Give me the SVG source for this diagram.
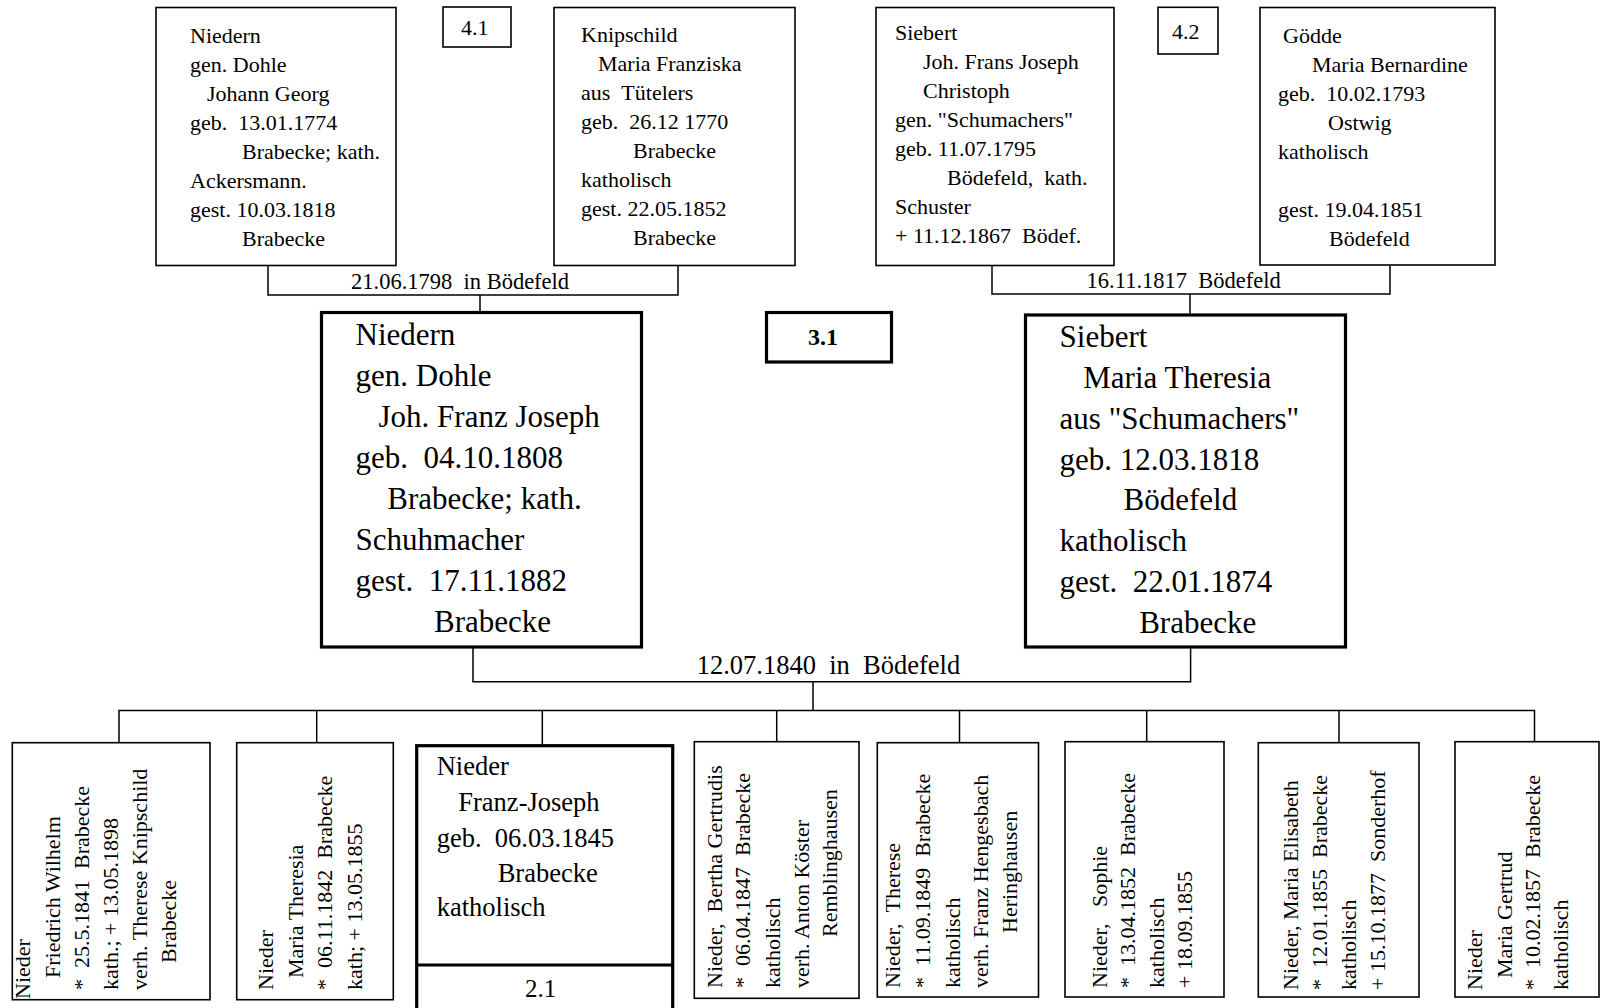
<svg xmlns="http://www.w3.org/2000/svg" width="1601" height="1008" viewBox="0 0 1601 1008">
<style>
text { font-family: "Liberation Serif", "Times New Roman", serif; fill: #000; white-space: pre; }
.t { font-size: 22px; }
.lab { font-size: 22.5px; }
.big { font-size: 31px; }
.mid { font-size: 26.5px; }
.num { font-size: 22px; }
.bold { font-size: 24px; font-weight: bold; }
.box { fill: #fff; stroke: #000; stroke-width: 1.6; }
.tbox { fill: #fff; stroke: #000; stroke-width: 3.2; }
.conn { fill: none; stroke: #000; stroke-width: 1.5; }
</style>
<rect width="1601" height="1008" fill="#fff"/>

<g id="connectors">
<path class="conn" d="M268,265.5 V295 H678 V265.5"/>
<path class="conn" d="M480,295 V311"/>
<path class="conn" d="M992,265.5 V294 H1390 V265.5"/>
<path class="conn" d="M1190,294 V313.5"/>
<path class="conn" d="M473,647 V681.7 H1190.6 V647"/>
<path class="conn" d="M813,681.7 V710.5"/>
<path class="conn" d="M119,742.7 V710.5 H1534.5 V741.7"/>
<path class="conn" d="M316.7,710.5 V742.7"/>
<path class="conn" d="M542.3,710.5 V744"/>
<path class="conn" d="M776.7,710.5 V741.7"/>
<path class="conn" d="M959.5,710.5 V742.7"/>
<path class="conn" d="M1146.7,710.5 V741.7"/>
<path class="conn" d="M1339,710.5 V742.7"/>
<text class="lab" x="351" y="289">21.06.1798 &#160;in Bödefeld</text>
<text class="lab" x="1086.6" y="288.3">16.11.1817 &#160;Bödefeld</text>
<text class="mid" x="696.7" y="674.3">12.07.1840 &#160;in &#160;Bödefeld</text>
</g>

<g id="n-niedern-johann-georg">
<rect class="box" x="156" y="7.5" width="240" height="258"/>
<text class="t" x="190" y="43.3">Niedern</text>
<text class="t" x="190" y="72.2">gen. Dohle</text>
<text class="t" x="207" y="101">Johann Georg</text>
<text class="t" x="190" y="130">geb. &#160;13.01.1774</text>
<text class="t" x="242" y="159">Brabecke; kath.</text>
<text class="t" x="190" y="188">Ackersmann.</text>
<text class="t" x="190" y="217">gest. 10.03.1818</text>
<text class="t" x="242" y="246">Brabecke</text>
</g>

<g id="label-4-1">
<rect class="box" x="443" y="7" width="68" height="40"/>
<text class="num" x="461" y="35">4.1</text>
</g>

<g id="n-knipschild">
<rect class="box" x="554" y="7.5" width="241" height="258"/>
<text class="t" x="581" y="42">Knipschild</text>
<text class="t" x="598" y="71">Maria Franziska</text>
<text class="t" x="581" y="100">aus &#160;Tütelers</text>
<text class="t" x="581" y="129">geb. &#160;26.12 1770</text>
<text class="t" x="633" y="158">Brabecke</text>
<text class="t" x="581" y="187">katholisch</text>
<text class="t" x="581" y="216">gest. 22.05.1852</text>
<text class="t" x="633" y="245">Brabecke</text>
</g>

<g id="n-siebert-joh">
<rect class="box" x="876" y="7.5" width="238" height="258"/>
<text class="t" x="895" y="40">Siebert</text>
<text class="t" x="923" y="69">Joh. Frans Joseph</text>
<text class="t" x="923" y="98">Christoph</text>
<text class="t" x="895" y="127">gen. "Schumachers"</text>
<text class="t" x="895" y="156">geb. 11.07.1795</text>
<text class="t" x="947" y="185">Bödefeld, &#160;kath.</text>
<text class="t" x="895" y="214">Schuster</text>
<text class="t" x="895" y="243">+ 11.12.1867 &#160;Bödef.</text>
</g>

<g id="label-4-2">
<rect class="box" x="1158" y="7.3" width="60" height="46.7"/>
<text class="num" x="1172" y="39.3">4.2</text>
</g>

<g id="n-goedde">
<rect class="box" x="1260" y="7.5" width="235" height="257.5"/>
<text class="t" x="1283" y="43">Gödde</text>
<text class="t" x="1312" y="72">Maria Bernardine</text>
<text class="t" x="1278" y="101">geb. &#160;10.02.1793</text>
<text class="t" x="1328" y="130">Ostwig</text>
<text class="t" x="1278" y="158.5">katholisch</text>
<text class="t" x="1278" y="217">gest. 19.04.1851</text>
<text class="t" x="1329" y="246">Bödefeld</text>
</g>

<g id="n-niedern-joh-franz-joseph">
<rect class="tbox" x="321.5" y="312.5" width="320" height="334.5"/>
<text class="big" x="355.5" y="345">Niedern</text>
<text class="big" x="355.5" y="386">gen. Dohle</text>
<text class="big" x="378.5" y="427">Joh. Franz Joseph</text>
<text class="big" x="355.5" y="468">geb. &#160;04.10.1808</text>
<text class="big" x="387.3" y="509">Brabecke; kath.</text>
<text class="big" x="355.5" y="550">Schuhmacher</text>
<text class="big" x="355.5" y="591">gest. &#160;17.11.1882</text>
<text class="big" x="434" y="632">Brabecke</text>
</g>

<g id="label-3-1">
<rect class="tbox" x="766.5" y="312.5" width="125" height="49.5"/>
<text class="bold" x="808" y="345">3.1</text>
</g>

<g id="n-siebert-maria-theresia">
<rect class="tbox" x="1025.5" y="315" width="320" height="332"/>
<text class="big" x="1059.6" y="347">Siebert</text>
<text class="big" x="1083.3" y="387.5">Maria Theresia</text>
<text class="big" x="1059.6" y="428.5">aus "Schumachers"</text>
<text class="big" x="1059.6" y="469.5">geb. 12.03.1818</text>
<text class="big" x="1123.5" y="510">Bödefeld</text>
<text class="big" x="1059.6" y="551">katholisch</text>
<text class="big" x="1059.6" y="592">gest. &#160;22.01.1874</text>
<text class="big" x="1139.2" y="632.5">Brabecke</text>
</g>

<g id="c-friedrich-wilhelm">
<rect class="box" x="12.3" y="742.7" width="197.7" height="257"/>
<text class="t" transform="translate(30,999) rotate(-90)">Nieder</text>
<text class="t" transform="translate(59.5,978) rotate(-90)">Friedrich Wilhelm</text>
<text class="t" transform="translate(88.5,990) rotate(-90)">* &#160;25.5.1841 &#160;Brabecke</text>
<text class="t" transform="translate(117.5,990) rotate(-90)">kath.; + 13.05.1898</text>
<text class="t" transform="translate(146.5,990) rotate(-90)">verh. Therese Knipschild</text>
<text class="t" transform="translate(175.5,963) rotate(-90)">Brabecke</text>
</g>

<g id="c-maria-theresia">
<rect class="box" x="236.7" y="742.7" width="156.6" height="257"/>
<text class="t" transform="translate(273,990) rotate(-90)">Nieder</text>
<text class="t" transform="translate(303,978) rotate(-90)">Maria Theresia</text>
<text class="t" transform="translate(332,990) rotate(-90)">* &#160;06.11.1842 &#160;Brabecke</text>
<text class="t" transform="translate(361.5,990) rotate(-90)">kath; + 13.05.1855</text>
</g>

<g id="c-franz-joseph">
<rect class="tbox" x="416.7" y="745.7" width="256" height="280"/>
<line x1="416.7" y1="965" x2="672.7" y2="965" stroke="#000" stroke-width="3.2"/>
<text class="mid" x="436.7" y="775">Nieder</text>
<text class="mid" x="458.3" y="811">Franz-Joseph</text>
<text class="mid" x="436.7" y="846.5">geb. &#160;06.03.1845</text>
<text class="mid" x="497.7" y="881.5">Brabecke</text>
<text class="mid" x="436.7" y="916">katholisch</text>
<text class="mid" x="525" y="996.7" style="font-size:25px">2.1</text>
</g>

<g id="c-bertha-gertrudis">
<rect class="box" x="694.3" y="741.7" width="164.7" height="256.6"/>
<text class="t" transform="translate(721.7,988) rotate(-90)">Nieder, &#160;Bertha Gertrudis</text>
<text class="t" transform="translate(750,988) rotate(-90)">* &#160;06.04.1847 &#160;Brabecke</text>
<text class="t" transform="translate(780,988) rotate(-90)">katholisch</text>
<text class="t" transform="translate(809,988) rotate(-90)">verh. Anton Köster</text>
<text class="t" transform="translate(837,937) rotate(-90)">Remblinghausen</text>
</g>

<g id="c-therese">
<rect class="box" x="877.3" y="742.7" width="161.2" height="254.3"/>
<text class="t" transform="translate(900,988) rotate(-90)">Nieder, &#160;Therese</text>
<text class="t" transform="translate(930,988) rotate(-90)">* &#160;11.09.1849 &#160;Brabecke</text>
<text class="t" transform="translate(959.5,988) rotate(-90)">katholisch</text>
<text class="t" transform="translate(987.5,988) rotate(-90)">verh. Franz Hengesbach</text>
<text class="t" transform="translate(1016.5,933) rotate(-90)">Heringhausen</text>
</g>

<g id="c-sophie">
<rect class="box" x="1065" y="741.7" width="159" height="255.3"/>
<text class="t" transform="translate(1106.7,988) rotate(-90)">Nieder, &#160;&#160;Sophie</text>
<text class="t" transform="translate(1135,988) rotate(-90)">* &#160;13.04.1852 &#160;Brabecke</text>
<text class="t" transform="translate(1163.5,988) rotate(-90)">katholisch</text>
<text class="t" transform="translate(1192,988) rotate(-90)">+ 18.09.1855</text>
</g>

<g id="c-maria-elisabeth">
<rect class="box" x="1258.3" y="742.7" width="160.7" height="254.3"/>
<text class="t" transform="translate(1298.3,990) rotate(-90)">Nieder, Maria Elisabeth</text>
<text class="t" transform="translate(1327,990) rotate(-90)">* &#160;12.01.1855 &#160;Brabecke</text>
<text class="t" transform="translate(1355.5,990) rotate(-90)">katholisch</text>
<text class="t" transform="translate(1385,990) rotate(-90)">+ 15.10.1877 &#160;Sonderhof</text>
</g>

<g id="c-maria-gertrud">
<rect class="box" x="1455" y="741.7" width="144" height="255.3"/>
<text class="t" transform="translate(1481.7,990) rotate(-90)">Nieder</text>
<text class="t" transform="translate(1511.7,978) rotate(-90)">Maria Gertrud</text>
<text class="t" transform="translate(1540,990) rotate(-90)">* &#160;10.02.1857 &#160;Brabecke</text>
<text class="t" transform="translate(1568,990) rotate(-90)">katholisch</text>
</g>
</svg>
